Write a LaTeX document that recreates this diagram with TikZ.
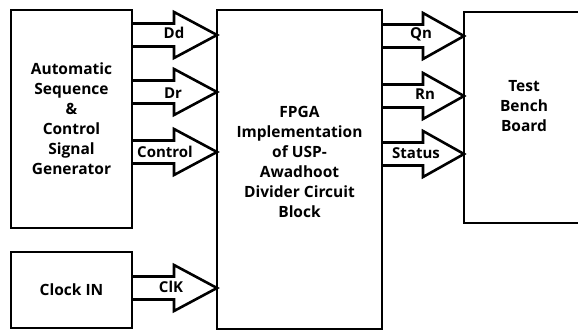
\documentclass[tikz,border=0pt]{standalone}
\usepackage{fontspec}
\setmainfont{Open Sans}
\newcommand\fatarrow[4]{%
  \draw[arr] (#1.east |- 0,#3-11.5) -- (#4,#3-11.5) -- (#4,#3-23) -- (#2.west |- 0,#3)
    -- (#4,#3+23) -- (#4,#3+11.5) -- (#1.east |- 0,#3+11.5);}
\tikzset{
  blk/.style={draw, line width=2.8pt, inner sep=0pt, outer sep=0pt, align=center,
    font=\fontsize{15.5}{20}\selectfont\bfseries},
  txt/.style={inner sep=0pt, align=center, font=\fontsize{15.5}{20}\selectfont\bfseries},
  arr/.style={draw, line width=2.6pt, line join=miter},
  lbl/.style={inner sep=0pt, font=\fontsize{15}{17}\selectfont\bfseries},
}
\begin{document}
\begin{tikzpicture}[x=1pt,y=-1pt]
\clip (0,0) rectangle (578,331);
\fill[white] (0,0) rectangle (578,331);
\node[blk, minimum width=121pt, minimum height=218pt] (asg) at (71.5,119)
  {Automatic\\Sequence\\\&\\Control\\Signal\\Generator};
\node[blk, minimum width=121pt, minimum height=76pt] (clk) at (71.5,290) {Clock IN};
\node[blk, minimum width=165pt, minimum height=319pt] (fpga) at (299.5,169.5) {};
\node[txt] (fpgat) at (fpga.center |- 0,162) 
  {FPGA\\Implementation\\of USP-\\Awadhoot\\Divider Circuit\\Block};
\node[blk, minimum width=126pt, minimum height=211pt] (tb) at (527,117.5) {};
\node[txt] (tbt) at (524,106) {Test\\Bench\\Board};
\fatarrow{asg}{fpga}{35}{174}
\fatarrow{asg}{fpga}{92}{174}
\fatarrow{asg}{fpga}{152}{174}
\fatarrow{clk}{fpga}{288}{174}
\fatarrow{fpga}{tb}{36}{423}
\fatarrow{fpga}{tb}{96}{423}
\fatarrow{fpga}{tb}{154}{423}
\node[lbl] (ldd) at (174,33) {Dd};
\node[lbl] (ldr) at (173,93) {Dr};
\node[lbl] (lctl) at (165,152) {Control};
\node[lbl] (lclk) at (171,287) {ClK};
\node[lbl] (lqn) at (421,34) {Qn};
\node[lbl] (lrn) at (425,94) {Rn};
\node[lbl] (lst) at (416,153) {Status};
\end{tikzpicture}
\end{document}
